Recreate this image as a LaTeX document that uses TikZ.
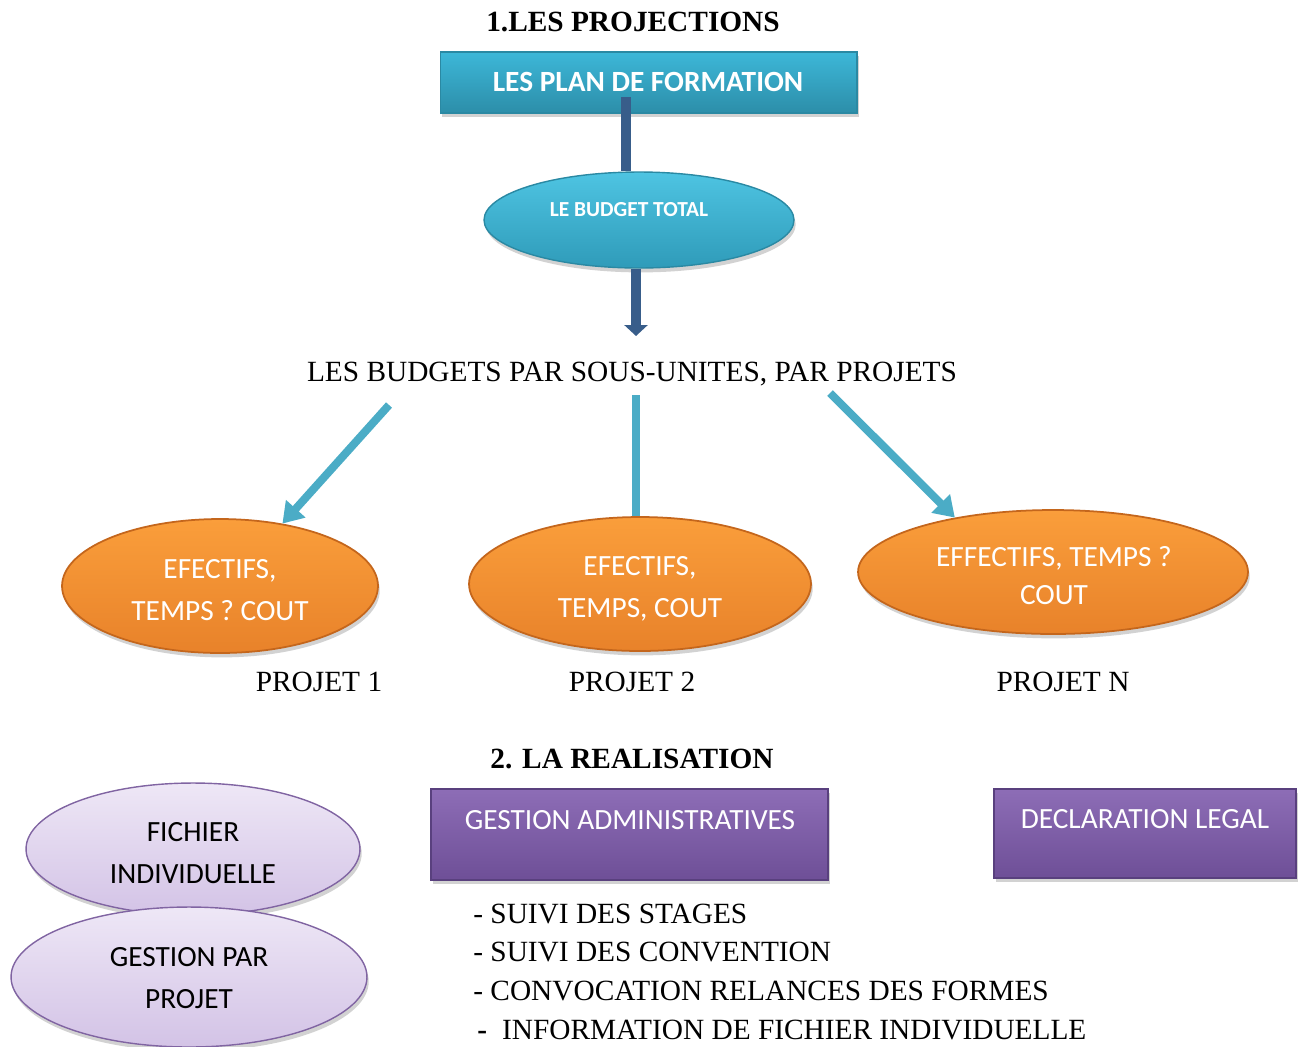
\documentclass[tikz,border=0pt]{standalone}
\usepackage{fontspec}
\setmainfont{Liberation Serif}
\newfontfamily\calfont{Carlito}
\usetikzlibrary{shapes.geometric,shadows,arrows.meta}

\definecolor{tealtop}{HTML}{3DB7D8}
\definecolor{tealbot}{HTML}{2C8EA9}
\definecolor{tealedge}{HTML}{2A89A3}
\definecolor{ovaltop}{HTML}{4EC4E2}
\definecolor{ovalbot}{HTML}{2F9BB9}
\definecolor{darkblue}{HTML}{385D8A}
\definecolor{arrowteal}{HTML}{4BACC6}
\definecolor{orangetop}{HTML}{FA9E3B}
\definecolor{orangebot}{HTML}{E8822A}
\definecolor{orangeedge}{HTML}{C4661C}
\definecolor{purptop}{HTML}{8D6DB6}
\definecolor{purpbot}{HTML}{6E4F97}
\definecolor{purpedge}{HTML}{59407E}
\definecolor{lavtop}{HTML}{EEE7F6}
\definecolor{lavbot}{HTML}{D3C3E6}
\definecolor{lavedge}{HTML}{8064A2}

\newcommand\sizeA{\fontsize{16.7}{20}\selectfont}
\newcommand\sizeB{\fontsize{12.2}{15}\selectfont}

\begin{document}
\begin{tikzpicture}[x=0.02cm,y=-0.02cm,
  softshadow/.style={drop shadow={opacity=0.22,shadow xshift=1pt,shadow yshift=-2.5pt,fill=black!80}},
  serif/.style={font=\sizeA, inner sep=0pt},
  serifbold/.style={font=\sizeA\bfseries, inner sep=0pt},
  tealbox/.style={rectangle, softshadow, top color=tealtop, bottom color=tealbot,
    draw=tealedge, line width=0.6pt, inner sep=0pt},
  tealoval/.style={ellipse, softshadow, top color=ovaltop, bottom color=ovalbot,
    draw=tealedge, line width=0.8pt, inner sep=0pt},
  orangeoval/.style={ellipse, softshadow, top color=orangetop, bottom color=orangebot,
    draw=orangeedge, line width=1pt, inner sep=0pt},
  lavoval/.style={ellipse, softshadow, top color=lavtop, bottom color=lavbot,
    draw=lavedge, line width=0.8pt, inner sep=0pt},
  whitetxt/.style={font=\fontsize{16.7}{24}\selectfont\calfont, text=white, align=center, inner sep=0pt},
  blacktxt/.style={font=\fontsize{16.7}{24}\selectfont\calfont, text=black, align=center, inner sep=0pt},
  purpbox/.style={rectangle, softshadow, top color=purptop, bottom color=purpbot,
    draw=purpedge, line width=1pt, inner sep=0pt},
  darkline/.style={draw=darkblue, line width=0.2cm},
  darkarrow/.style={darkline, -{Triangle[width=0.46cm,length=0.22cm]}},
  tealline/.style={draw=arrowteal, line width=0.16cm},
  tealarrow/.style={tealline, -{Triangle[width=0.5cm,length=0.4cm]}},
]
\useasboundingbox (0,0) rectangle (1300,1046);

% ---------- part 1 : projections ----------
\node[serifbold, anchor=base] (title1) at (633,31) {1.LES PROJECTIONS};

\node[tealbox, minimum width=8.34cm, minimum height=1.22cm] (plan) at (648.5,82.5) {};
\node[font=\sizeA\calfont\bfseries, text=white, inner sep=0pt] (plantxt) at (648,82) {LES PLAN DE FORMATION};

\node[tealoval, minimum width=6.2cm, minimum height=1.92cm] (budget) at (639,220) {};
\node[font=\sizeB\calfont\bfseries, text=white, inner sep=0pt] (budgettxt) at (629,210) {LE BUDGET TOTAL};

\coordinate (p1) at (626,97);
\draw[darkline] (p1) -- (p1 |- budget.north);
\coordinate (p2) at (636,336);
\draw[darkarrow] (budget.south -| p2) -- (p2);

\node[serif, anchor=base] (subunits) at (632,381) {LES BUDGETS PAR SOUS-UNITES, PAR PROJETS};

% project ovals, text set a little below centre
\node[orangeoval, minimum width=6.32cm, minimum height=2.68cm] (e1) at (220,586) {};
\node[whitetxt] (e1txt) at (220,590) {EFECTIFS,\\TEMPS ? COUT};
\node[orangeoval, minimum width=6.84cm, minimum height=2.68cm] (e2) at (640,584) {};
\node[whitetxt] (e2txt) at (640,589) {EFECTIFS,\\TEMPS, COUT};
\node[orangeoval, minimum width=7.8cm, minimum height=2.48cm] (e3) at (1053,572) {};
\node[whitetxt, font=\fontsize{16.7}{21.6}\selectfont\calfont] (e3txt) at (1054,576) {EFFECTIFS, TEMPS ?\\COUT};

\coordinate (a1) at (389,405);
\draw[tealarrow] (a1) -- (e1.45);
\coordinate (a2) at (636,395);
\draw[tealline] (a2) -- (a2 |- e2.north);
\coordinate (a3) at (830,393);
\draw[tealarrow] (a3) -- (e3.151);

\node[serif, anchor=base] (proj1) at (319,691) {PROJET 1};
\node[serif, anchor=base] (proj2) at (632,691) {PROJET 2};
\node[serif, anchor=base] (projn) at (1063,691) {PROJET N};

% ---------- part 2 : realisation ----------
\node[serifbold, anchor=base] (title2) at (632,768) {2. LA REALISATION};

\node[lavoval, minimum width=6.68cm, minimum height=2.64cm] (fichier) at (193,849) {};
\node[blacktxt] (fichiertxt) at (193,853) {FICHIER\\INDIVIDUELLE};
\node[lavoval, minimum width=7.12cm, minimum height=2.8cm] (gestion) at (189,977) {};
\node[blacktxt] (gestiontxt) at (189,978) {GESTION PAR\\PROJET};

\node[purpbox, minimum width=7.94cm, minimum height=1.82cm] (admin) at (629.5,834.5) {};
\node[font=\sizeA\calfont, text=white, inner sep=0pt] (admintxt) at (630,820) {GESTION ADMINISTRATIVES};
\node[purpbox, minimum width=6.04cm, minimum height=1.78cm] (legal) at (1145,833.5) {};
\node[font=\sizeA\calfont, text=white, inner sep=0pt] (legaltxt) at (1145,819) {DECLARATION LEGAL};

\node[serif, anchor=base west] (l1) at (473,923) {- SUIVI DES STAGES};
\node[serif, anchor=base west] (l2) at (473,961) {- SUIVI DES CONVENTION};
\node[serif, anchor=base west] (l3) at (473,1000) {- CONVOCATION RELANCES DES FORMES};
\node[serif, anchor=base west] (l4) at (477,1039) {\textbf{-}\hspace{0.3cm}INFORMATION DE FICHIER INDIVIDUELLE};
\end{tikzpicture}
\end{document}
